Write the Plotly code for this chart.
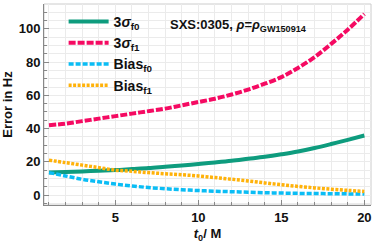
import plotly.graph_objects as go

t0 = list(range(1, 21))
sigma3_f0 = [13.5, 13.8, 14.2, 14.6, 15.0, 15.6, 16.2, 17.0, 17.8, 18.7, 19.6, 20.6, 21.8, 23.0, 24.5, 26.2, 28.3, 30.7, 33.2, 35.8]
sigma3_f1 = [42.0, 43.0, 44.5, 46.0, 47.5, 49.0, 50.5, 52.0, 54.0, 56.0, 58.0, 60.5, 63.5, 67.0, 71.0, 76.5, 83.0, 91.0, 99.5, 109.0]
bias_f0 = [13.5, 11.5, 9.5, 8.0, 6.6, 5.5, 4.5, 3.8, 3.2, 2.7, 2.3, 2.0, 1.7, 1.4, 1.2, 1.0, 0.9, 0.8, 0.7, 0.6]
bias_f1 = [21.0, 19.5, 18.0, 16.5, 15.0, 14.3, 13.5, 12.8, 12.2, 11.5, 10.5, 9.5, 8.5, 7.3, 6.2, 5.2, 4.3, 3.5, 2.8, 2.2]

x_ticks = [5, 10, 15, 20]
y_ticks = [0, 20, 40, 60, 80, 100]

fig = go.Figure()
fig.add_trace(go.Scatter(x=t0, y=sigma3_f0, mode="lines", line_shape="spline",
                         name="<b>3<i>σ</i><sub>f0</sub></b>", line=dict(color="#0E9C7E", width=4)))
fig.add_trace(go.Scatter(x=t0, y=sigma3_f1, mode="lines", line_shape="spline",
                         name="<b>3<i>σ</i><sub>f1</sub></b>", line=dict(color="#F50A62", width=4, dash="7px,2px")))
fig.add_trace(go.Scatter(x=t0, y=bias_f0, mode="lines", line_shape="spline",
                         name="<b>Bias<sub>f0</sub></b>", line=dict(color="#0ABDF5", width=3.5, dash="5px,2px")))
fig.add_trace(go.Scatter(x=t0, y=bias_f1, mode="lines", line_shape="spline",
                         name="<b>Bias<sub>f1</sub></b>", line=dict(color="#FFB20A", width=3.5, dash="3px,1.5px")))

fig.update_layout(
    width=374, height=243,
    margin=dict(l=44, r=3, t=4, b=38),
    paper_bgcolor="white", plot_bgcolor="white",
    font=dict(family="Liberation Sans, Arial, sans-serif", size=13, color="#111111"),
    legend=dict(x=0.06, y=0.99, xanchor="left", yanchor="top", bgcolor="rgba(0,0,0,0)",
                font=dict(size=14, color="#111111", family="Liberation Sans, Arial, sans-serif"),
                itemwidth=40, tracegroupgap=0),
    annotations=[dict(text="<b>SXS:0305, <i>ρ</i>=<i>ρ</i><sub>GW150914</sub></b>", x=0.38, y=0.895,
                      xref="paper", yref="paper", xanchor="left", yanchor="middle",
                      showarrow=False, font=dict(size=13, color="#111111"))],
)
fig.update_xaxes(range=[0.7, 20.4], tickvals=x_ticks, ticktext=[f"<b>{v}</b>" for v in x_ticks],
                 showgrid=True, gridcolor="#EBEBEB", gridwidth=1,
                 minor=dict(dtick=1, showgrid=True, gridcolor="#EBEBEB", ticks="inside", ticklen=3, tickcolor="#888"),
                 ticks="inside", ticklen=5, tickcolor="#888",
                 showline=True, linecolor="#888", linewidth=1, mirror=False, zeroline=False,
                 title=dict(text="<b><i>t</i><sub>0</sub>/ M</b>", standoff=6, font=dict(size=13)))
fig.update_yaxes(range=[-6, 115], tickvals=y_ticks, ticktext=[f"<b>{v}</b>" for v in y_ticks],
                 showgrid=True, gridcolor="#EBEBEB", gridwidth=1,
                 minor=dict(dtick=5, showgrid=True, gridcolor="#EBEBEB", ticks="inside", ticklen=3, tickcolor="#888"),
                 ticks="inside", ticklen=5, tickcolor="#888",
                 showline=True, linecolor="#888", linewidth=1, mirror=False, zeroline=False,
                 title=dict(text="<b>Error in Hz</b>", standoff=4, font=dict(size=13)))
fig.add_shape(type="rect", xref="paper", yref="paper", x0=0, y0=0, x1=1, y1=1,
              line=dict(color="#CCCCCC", width=1), layer="below")
fig.write_html("out.html", config={"displayModeBar": False},
               post_script="document.body.style.margin='0';document.body.style.overflow='hidden';")
